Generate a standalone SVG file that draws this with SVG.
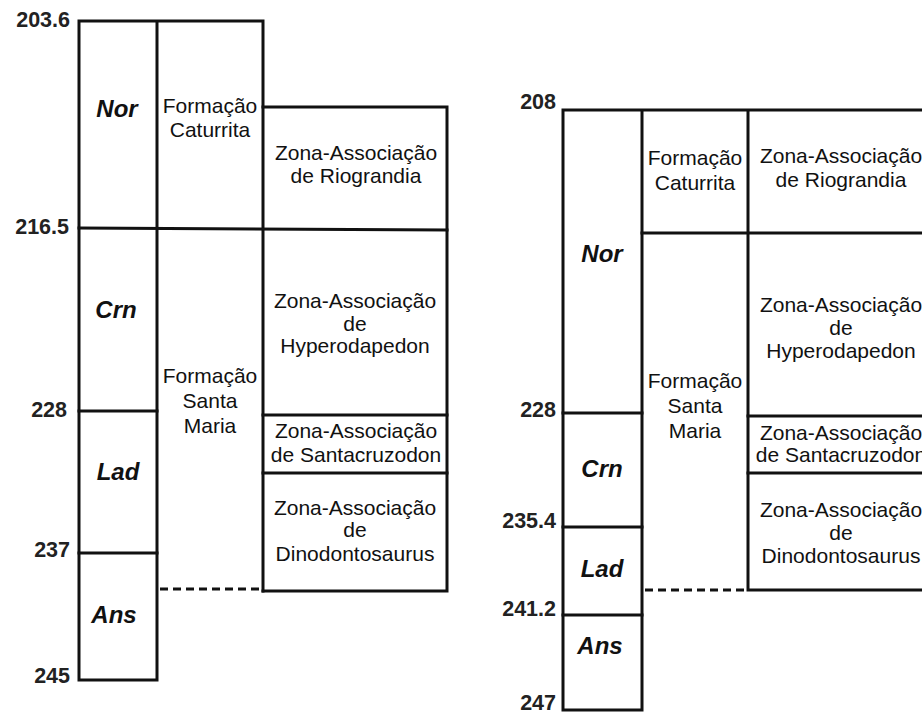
<svg xmlns="http://www.w3.org/2000/svg" width="922" height="713" viewBox="0 0 922 713">
<style>
.ln{stroke:#111;stroke-width:3;fill:none;stroke-linecap:square}
.dash{stroke:#111;stroke-width:3;fill:none;stroke-dasharray:8,5}
.num{font-family:"Liberation Sans",Arial,sans-serif;font-weight:bold;font-size:21.5px;fill:#222;text-anchor:end}
.stage{font-family:"Liberation Sans",Arial,sans-serif;font-weight:bold;font-style:italic;font-size:24px;fill:#111;text-anchor:middle}
.t{font-family:"Liberation Sans",Arial,sans-serif;font-size:21px;fill:#111;text-anchor:middle}
</style>
<rect width="922" height="713" fill="#fff"/>
<g id="connectors">
  <path class="ln" d="M79,21 H263 V591 M79,21 V680 H157 M157,21 V680"/>
  <path class="ln" d="M263,107 H447 V591 H263"/>
  <path class="ln" d="M79,228 L447,230"/>
  <path class="ln" d="M79,411 H157 M263,415 H447 M263,473 H447 M79,553 H157"/>
  <path class="dash" d="M160,589 H263"/>
  <path class="ln" d="M563,110 H922 M563,110 V710 H642 M642,110 V710 M748,110 V590 H922"/>
  <path class="ln" d="M642,233 H922"/>
  <path class="ln" d="M563,413 H642 M748,416 H922 M748,473 H922 M563,527 H642 M563,615 H642"/>
  <path class="dash" d="M645,590 H748"/>
</g>
<g id="left-ages">
  <text class="num" x="70" y="27">203.6</text>
  <text class="num" x="69" y="234">216.5</text>
  <text class="num" x="67" y="417">228</text>
  <text class="num" x="70" y="557">237</text>
  <text class="num" x="70" y="683">245</text>
</g>
<g id="left-stages">
  <text class="stage" x="117" y="117">Nor</text>
  <text class="stage" x="116" y="318">Crn</text>
  <text class="stage" x="118" y="480">Lad</text>
  <text class="stage" x="114" y="623">Ans</text>
</g>
<g id="left-caturrita">
  <text class="t" x="210" y="113">Formação</text>
  <text class="t" x="210" y="137">Caturrita</text>
</g>
<g id="left-santamaria">
  <text class="t" x="210" y="383">Formação</text>
  <text class="t" x="210" y="408">Santa</text>
  <text class="t" x="210" y="433">Maria</text>
</g>
<g id="left-riograndia">
  <text class="t" x="356" y="160">Zona-Associação</text>
  <text class="t" x="356" y="183">de Riograndia</text>
</g>
<g id="left-hyperodapedon">
  <text class="t" x="355" y="308">Zona-Associação</text>
  <text class="t" x="355" y="331">de</text>
  <text class="t" x="355" y="353">Hyperodapedon</text>
</g>
<g id="left-santacruzodon">
  <text class="t" x="356" y="438">Zona-Associação</text>
  <text class="t" x="356" y="462">de Santacruzodon</text>
</g>
<g id="left-dinodontosaurus">
  <text class="t" x="355" y="515">Zona-Associação</text>
  <text class="t" x="355" y="537">de</text>
  <text class="t" x="355" y="561">Dinodontosaurus</text>
</g>
<g id="right-ages">
  <text class="num" x="556" y="109">208</text>
  <text class="num" x="556" y="417">228</text>
  <text class="num" x="556" y="528">235.4</text>
  <text class="num" x="556" y="616">241.2</text>
  <text class="num" x="556" y="710">247</text>
</g>
<g id="right-stages">
  <text class="stage" x="602" y="262">Nor</text>
  <text class="stage" x="602" y="477">Crn</text>
  <text class="stage" x="602" y="577">Lad</text>
  <text class="stage" x="600" y="654">Ans</text>
</g>
<g id="right-caturrita">
  <text class="t" x="695" y="165">Formação</text>
  <text class="t" x="695" y="190">Caturrita</text>
</g>
<g id="right-santamaria">
  <text class="t" x="695" y="388">Formação</text>
  <text class="t" x="695" y="413">Santa</text>
  <text class="t" x="695" y="438">Maria</text>
</g>
<g id="right-riograndia">
  <text class="t" x="841" y="163">Zona-Associação</text>
  <text class="t" x="841" y="187">de Riograndia</text>
</g>
<g id="right-hyperodapedon">
  <text class="t" x="841" y="312">Zona-Associação</text>
  <text class="t" x="841" y="335">de</text>
  <text class="t" x="841" y="358">Hyperodapedon</text>
</g>
<g id="right-santacruzodon">
  <text class="t" x="841" y="440">Zona-Associação</text>
  <text class="t" x="841" y="462">de Santacruzodon</text>
</g>
<g id="right-dinodontosaurus">
  <text class="t" x="841" y="517">Zona-Associação</text>
  <text class="t" x="841" y="540">de</text>
  <text class="t" x="841" y="563">Dinodontosaurus</text>
</g>
</svg>
